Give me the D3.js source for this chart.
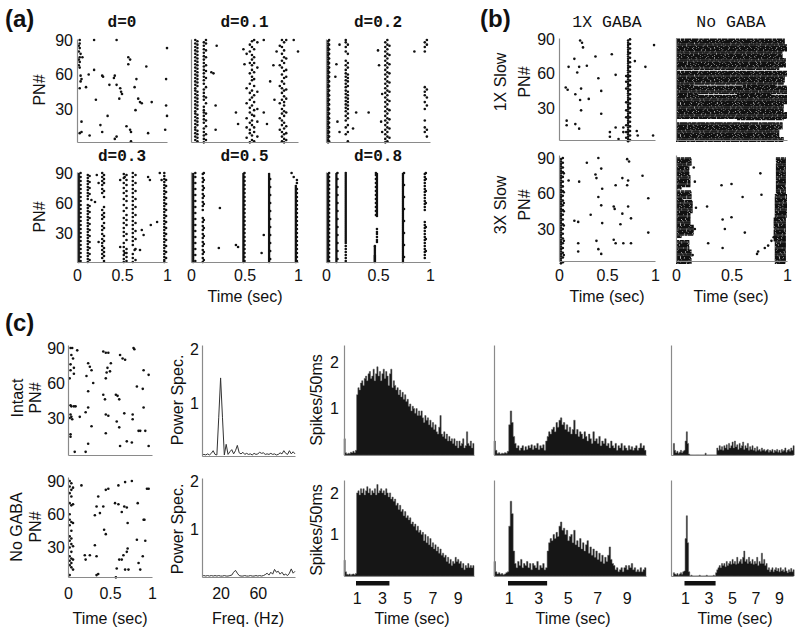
<!DOCTYPE html>
<html><head><meta charset="utf-8">
<script src="https://cdn.jsdelivr.net/npm/d3@7"></script>
<style>body{margin:0;background:#fff}</style>
</head><body><svg id="c" width="800" height="635"></svg>
<script>
// ---------------- DATA ----------------
const yTickLabels = [30, 60, 90];
const timeTicks = [0, 0.5, 1];
const histTicks = [1, 3, 5, 7, 9];
const freqTicks = [20, 60];
const dTitles = ["d=0", "d=0.1", "d=0.2", "d=0.3", "d=0.5", "d=0.8"];
const bTitles = ["1X GABA", "No GABA"];
const bRowLabels = ["1X Slow", "3X Slow"];
const cRowLabels = ["Intact", "No GABA"];

// (a) rasters: scattered spikes [time, PN]
const d0Points = [[0.03,90],[0.19,90],[0.44,90],[1.0,83],[0.03,87],[0.02,85],[0.03,83],[0.02,80],[0.04,78],[0.03,75],[0.02,73],[0.03,71],[0.02,68],[0.03,66],[0.06,75],[0.57,75],[0.59,73],[0.57,69],[0.77,67],[0.04,59],[0.05,56],[0.04,54],[0.03,48],[0.13,60],[0.19,64],[0.28,59],[0.29,58],[0.42,59],[0.41,57],[0.36,51],[0.44,51],[0.48,48],[0.49,45],[0.5,43],[0.47,39],[0.1,49],[0.66,56],[0.64,49],[0.68,39],[0.7,36],[0.72,35],[0.83,36],[0.99,56],[0.21,38],[0.65,29],[0.99,33],[1.0,24],[0.34,24],[0.05,19],[0.26,16],[0.28,10],[0.55,15],[0.59,12],[0.6,10],[0.98,12],[0.03,9],[0.05,10],[0.14,7],[0.42,4],[0.44,6],[0.6,2],[0.79,9]];
const d0Bands = [];
const d01Points = [[0.24,85],[0.19,62],[0.21,61],[0.23,33],[0.23,12],[0.42,27],[0.44,17],[0.5,69],[0.49,82],[0.68,90],[0.77,68],[0.78,38],[0.74,54],[0.8,80],[0.96,90],[1.0,80],[0.71,17],[0.68,27]];
const d01Bands = [
  [0.04,"3 6 9 12 14 17 20 23 26 28 31 34 37 40 43 46 48 51 54 57 60 63 66 69 72 75 78 81 84 87 90"],
  [0.06,"2 5 8 11 16 19 22 25 30 33 36 39 42 45 50 53 56 59 62 65 68 71 74 77 80 83 86 89"],
  [0.12,"1 4 7 10 13 18 21 24 27 29 32 38 41 44 47 52 55 58 61 64 67 70 73 76 79 82 85 88"],
  [0.14,"3 8 15 20 26 35 40 49 57 63 68 75 81 87 90"],
  [0.52,"5 14 22 35 48 78"],
  [0.55,"1 9 12 18 27 31 38 44 52 61 70 80 86"],
  [0.57,"3 7 16 20 25 33 40 46 55 58 64 68 73 77 84 89"],
  [0.59,"2 10 14 24 29 36 42 50 56 62 70 75 82 90"],
  [0.62,"6 19 30 45 66 88"],
  [0.83,"12 22 35 50 68 85"],
  [0.85,"2 6 10 16 20 26 30 38 44 48 54 60 66 72 78 84 90"],
  [0.87,"1 4 8 13 18 24 28 33 36 41 46 52 57 63 70 75 81 88"],
  [0.89,"3 9 15 27 39 47 58 64 74 90"]
];
const d02Points = [[0.13,86],[0.1,69],[0.09,58],[0.11,19],[0.13,10],[0.29,27],[0.41,27],[0.5,81],[0.51,68],[0.53,19],[0.54,10],[0.26,13],[0.54,43],[0.85,80]];
const d02Bands = [
  [0.02,"1 3 5 7 9 11 13 15 17 19 21 23 25 27 29 31 33 35 37 39 41 43 45 47 49 51 53 55 57 59 61 63 65 67 69 71 73 75 77 79 81 83 85 87 89"],
  [0.03,"2 6 10 14 18 22 26 30 34 38 42 46 50 54 58 62 66 70 74 78 82 86 90"],
  [0.19,"8 14 20 24 28 31 34 37 40 43 46 49 52 55 58 61 64 68 72 80 84 88 90"],
  [0.21,"2 10 16 22 26 30 33 36 39 42 45 50 54 57 60 66 70 78 86"],
  [0.57,"1 4 8 12 16 20 24 28 32 36 40 44 48 52 56 60 64 68 72 76 80 84 88"],
  [0.59,"2 6 10 14 18 22 26 30 34 38 42 46 50 54 58 62 66 70 74 78 82 86 90"],
  [0.61,"5 13 21 29 37 45 53 61 69 77 85"],
  [0.95,"10 14 20 30 36 42 45 49 80 84 88"],
  [0.97,"6 12 33 40 47 86 90"]
];
const d03Points = [[0.22,88],[0.24,80],[0.16,63],[0.2,61],[0.48,83],[0.53,86],[0.79,86],[0.81,83],[0.92,90],[0.94,83],[0.82,38],[0.89,41],[0.72,33],[0.74,28],[0.64,13],[0.7,13],[0.48,16],[0.53,10],[0.24,21]];
const d03Bands = [
  [0.02,"1 3 5 7 9 11 13 15 17 19 21 23 25 27 29 31 33 35 37 39 41 43 45 47 49 51 53 55 57 59 61 63 65 67 69 71 73 75 77 79 81 83 85 87 89"],
  [0.04,"2 6 10 14 18 22 26 30 34 38 42 46 50 54 58 62 66 70 74 78 82 86 90"],
  [0.12,"1 4 7 10 13 16 19 22 25 28 31 34 37 40 43 46 49 52 55 58 64 67 70 73 76 79 82 85 88"],
  [0.14,"3 9 15 21 27 33 39 45 51 57 69 75 81 87"],
  [0.28,"5 9 13 17 20 24 29 33 37 44 48 53 70 74 78 82 86 90"],
  [0.30,"2 7 11 15 22 27 35 40 46 50 56 66 72 80 84 88"],
  [0.52,"1 4 8 12 16 20 27 31 35 40 45 52 58 64 70 75 80 85 89"],
  [0.55,"2 6 10 14 23 29 38 43 48 55 62 67 72 78 83 88"],
  [0.62,"1 5 9 18 22 26 30 34 38 42 46 50 54 58 62 66 70 74 78 82 86 90"],
  [0.65,"3 14 24 32 40 48 56 64 72 80 88"],
  [0.97,"1 3 6 9 12 15 18 21 24 27 30 33 36 39 42 45 48 51 54 57 60 63 66 69 72 75 78 81 84 87 90"],
  [0.99,"5 11 17 23 29 35 41 47 53 59 65 71 77 83"]
];
const d05Points = [[0.27,55],[0.26,15],[0.42,18],[0.44,16],[0.68,28],[0.66,10],[0.94,90],[0.96,86],[0.99,83]];
const d05Bands = [
  [0.02,"1 3 5 7 9 11 13 15 17 19 21 23 25 27 29 31 33 35 37 39 41 43 45 47 49 51 53 55 57 59 61 63 65 67 69 71 73 75 77 79 81 83 85 87 89"],
  [0.04,"2 8 14 20 26 32 38 44 50 56 62 68 74 80 86 90"],
  [0.11,"1 5 9 13 17 21 25 29 33 37 41 45 53 57 61 65 69 73 77 81 85 89"],
  [0.12,"3 11 19 27 35 43 59 67 75 83 90"],
  [0.49,"1 3 5 7 9 11 13 15 17 19 21 23 25 27 29 31 33 35 37 39 41 43 45 47 49 51 53 55 57 59 61 63 65 67 69 71 73 75 77 79 81 83 85 87 89"],
  [0.50,"2 6 10 14 18 22 26 30 34 38 42 46 50 54 58 62 66 70 74 78 82 86 90"],
  [0.73,"1 3 5 7 9 11 13 15 17 19 21 23 25 27 29 31 33 35 37 39 41 43 45 47 49 51 53 55 57 59 61 63 65 67 69 71 73 75 77 79 81 83 85 87 89"],
  [0.74,"4 12 20 28 36 44 52 60 68 76 84"],
  [0.98,"1 3 5 7 9 11 13 15 17 19 21 23 25 27 29 31 33 35 37 39 41 43 45 47 49 51 53 55 57 59 61 63 65 67 69 71 73 75 77"],
  [0.99,"2 6 10 14 18 22 26 30 34 38 42 46 50 54 58 62 66 70 74 80"]
];
const d08Points = [];
const d08Bands = [
  [0.02,"1 3 5 7 9 11 13 15 17 19 21 23 25 27 29 31 33 35 37 39 41 43 45 47 49 51 53 55 57 59 61 63 65 67 69 71 73 75 77 79 81 83 85 87 89"],
  [0.03,"2 6 10 14 18 22 26 30 34 38 42 46 50 54 58 62 66 70 74 78 82 86 90"],
  [0.10,"1 3 5 7 9 11 13 15 17 19 21 23 25 27 29 31 33 35 37 39 41 43 45 47 49 51 53 55 57 59 61 63 65 67 69 71 73 75 77 79 81 83 85 87 89"],
  [0.11,"4 12 20 28 36 44 52 60 68 76 84 90"],
  [0.19,"2 5 8 11 14 17 20 22 24 26 28 30 32 34 36 38 40 42 44 46 48 50 52 54 56 58 60 62 64 66 68 70 72 74 76 78 80 82 84 86 88 90"],
  [0.49,"21 23 26 29 31 34 47 49 51 53 55 57 59 61 63 65 67 69 71 73 75 77 79 81 83 85 87 89"],
  [0.48,"48 52 56 60 64 68 72 76 80 84 88 90"],
  [0.47,"1 2 3 4 5 6 7 8 10 12 14 16 17"],
  [0.74,"1 3 5 7 9 11 13 15 17 19 21 23 25 27 29 31 33 35 37 39 41 43 45 47 49 51 53 55 57 59 61 63 65 67 69 71 73 75 77 79 81 83 85 87 89"],
  [0.75,"6 18 30 42 54 66 78 90"],
  [0.95,"5 8 11 14 17 20 23 26 29 32 35 38 41 53 56 59 62 65 68 71 74 77 80 83 86 89"],
  [0.96,"12 24 36 60 72 84 90"]
];

// (b) rasters
const gaba1xPoints = [[0.22,89],[0.24,87],[0.25,83],[0.38,75],[0.55,77],[0.99,85],[0.16,73],[0.10,66],[0.21,66],[0.29,67],[0.19,61],[0.79,71],[0.9,66],[0.59,59],[0.41,56],[0.07,48],[0.09,46],[0.17,42],[0.23,47],[0.44,45],[0.31,38],[0.22,37],[0.23,28],[0.44,25],[0.08,19],[0.08,15],[0.17,16],[0.21,12],[0.53,9],[0.53,5],[0.59,13],[0.62,3],[0.67,9],[0.81,10],[0.82,6],[0.98,6],[0.67,13]];
const gaba1xBands = [
  [0.72,"1 3 5 7 9 11 13 15 17 19 21 23 25 27 29 31 33 35 37 39 41 43 45 47 49 51 53 55 57 59 61 63 65 67 69 71 73 75 77 79 81 83 85 87 89"],
  [0.74,"2 6 10 14 18 22 26 30 34 38 42 46 50 54 58 62 66 70 74 78 82 86 90"],
  [0.70,"4 9 15 22 28 35 47 53 58"]
];
const noGaba1xBlocks = [[86,90,0,0.98],[80,85,0,1.0],[74,79,0,0.96],[66,73,0,0.99],[64,65,0,0.93],[58,62,0,1.0],[53,57,0,0.98],[51,52,0,0.97],[50,50,0,0.16],[50,50,0.6,0.9],[43,49,0,1.0],[42,42,0,0.2],[42,42,0.55,0.86],[34,41,0,1.0],[27,33,0,0.97],[21,26,0,1.0],[20,20,0.55,0.97],[12,17,0,0.96],[5,11,0,0.93],[1,4,0,0.97]];
const gaba3xPoints = [[0.29,86],[0.41,90],[0.71,89],[0.73,87],[0.44,81],[0.10,71],[0.21,70],[0.38,76],[0.39,73],[0.66,73],[0.87,75],[0.72,71],[0.45,64],[0.59,67],[0.71,67],[0.93,56],[0.41,57],[0.44,50],[0.57,49],[0.58,47],[0.72,49],[0.66,43],[0.33,42],[0.75,39],[0.16,37],[0.2,36],[0.45,35],[0.64,34],[0.93,27],[0.2,18],[0.39,20],[0.57,21],[0.59,18],[0.67,18],[0.75,18],[0.41,13],[0.44,9],[0.2,11]];
const gaba3xBands = [
  [0.02,"1 3 5 7 9 11 13 15 17 19 21 23 25 27 29 31 33 35 37 39 41 43 45 47 49 51 53 55 57 59 61 63 65 67 69 71 73 75 77 79 81 83 85 87 89"],
  [0.04,"2 6 10 14 18 22 26 30 34 38 42 46 50 54 58 62 66 70 74 78 82 86 90"],
  [0.05,"8 20 33 45 52 61 77"]
];
const noGaba3xPoints = [[0.41,67],[0.5,68],[0.76,77],[0.6,57],[0.77,59],[0.28,49],[0.5,40],[0.42,38],[0.62,27],[0.44,30],[0.29,18],[0.42,14],[0.74,11],[0.73,9],[0.8,14],[0.83,16],[0.86,20],[0.88,23],[0.16,82],[0.17,70],[0.18,48],[0.17,30],[0.15,8]];
const noGaba3xBlocks = [[84,90,0,0.14],[76,83,0,0.12],[66,75,0,0.13],[64,65,0,0.05],[56,62,0,0.14],[55,55,0,0.06],[44,54,0,0.15],[34,43,0,0.13],[25,33,0,0.16],[23,24,0,0.05],[13,20,0,0.12],[1,12,0,0.14],[60,90,0.9,0.99],[40,59,0.89,1.0],[20,39,0.88,0.99],[1,19,0.89,0.99]];

// (c) rasters
const intactPoints = [[0.03,90],[0.05,90],[0.11,88],[0.04,84],[0.06,81],[0.03,76],[0.07,73],[0.03,71],[0.07,68],[0.02,64],[0.24,77],[0.26,74],[0.28,71],[0.22,66],[0.24,53],[0.3,60],[0.42,87],[0.45,86],[0.48,86],[0.51,77],[0.47,73],[0.46,69],[0.5,70],[0.45,64],[0.62,84],[0.65,81],[0.68,80],[0.79,89],[0.78,90],[0.42,50],[0.44,46],[0.57,50],[0.59,49],[0.61,46],[0.82,57],[0.89,55],[0.9,39],[0.9,71],[0.96,67],[0.03,41],[0.04,40],[0.07,40],[0.09,40],[0.02,30],[0.04,31],[0.05,29],[0.03,33],[0.14,31],[0.21,35],[0.24,39],[0.45,33],[0.48,32],[0.45,17],[0.58,27],[0.61,22],[0.67,34],[0.77,33],[0.77,29],[0.7,10],[0.76,9],[0.84,19],[0.86,19],[0.92,19],[0.03,16],[0.03,14],[0.28,23],[0.24,8],[0.62,6],[0.96,6],[0.08,1],[0.21,1]];
const noGabaCPoints = [[0.16,86],[0.36,76],[0.45,82],[0.48,83],[0.34,67],[0.38,61],[0.32,59],[0.42,67],[0.43,46],[0.45,42],[0.6,86],[0.68,89],[0.76,90],[0.56,70],[0.6,69],[0.67,67],[0.7,66],[0.64,62],[0.71,52],[0.83,70],[0.9,55],[0.91,55],[0.94,83],[0.96,83],[0.82,37],[0.92,36],[0.89,22],[0.84,16],[0.86,10],[0.71,29],[0.7,26],[0.66,23],[0.64,19],[0.61,19],[0.58,11],[0.57,3],[0.68,10],[0.72,10],[0.2,23],[0.26,23],[0.34,22],[0.21,19],[0.32,32],[0.34,5],[0.36,6]];
const noGabaCBands = [
  [0.02,"5 14 18 22 30 36 40 50 55 60 70 79 85 90"],
  [0.04,"12 16 20 26 33 38 45 53 68 76 82 88"],
  [0.06,"10 19 31 52 69 84"]
];

// (c) power spectra
const specFreq = [0,2,4,6,8,10,12,14,16,18,20,22,24,26,28,30,32,34,36,38,40,42,44,46,48,50,52,54,56,58,60,62,64,66,68,70,72,74,76,78,80,82,84,86,88,90,92,94,96,98,100];
const specIntact = [0.02,0.03,0.02,0.04,0.02,0.05,0.1,0.03,0.02,0.73,1.47,0.73,0.02,0.22,0.03,0.08,0.12,0.04,0.1,0.2,0.06,0.04,0.07,0.03,0.05,0.03,0.04,0.02,0.05,0.03,0.04,0.07,0.05,0.06,0.03,0.04,0.03,0.05,0.03,0.04,0.02,0.03,0.06,0.04,0.1,0.05,0.03,0.1,0.04,0.08,0.04];
const specNoGaba = [0.02,0.03,0.02,0.03,0.02,0.03,0.02,0.03,0.02,0.03,0.02,0.02,0.03,0.02,0.02,0.03,0.04,0.1,0.14,0.08,0.03,0.02,0.02,0.03,0.02,0.02,0.03,0.02,0.02,0.03,0.02,0.03,0.02,0.03,0.05,0.08,0.04,0.1,0.06,0.16,0.1,0.12,0.06,0.1,0.04,0.06,0.03,0.08,0.17,0.08,0.12];

// (c) PSTHs, 0.1 s bins from 0 s
const histIntact1 = [0.35,0.05,0.02,0.04,0.03,0.06,0.05,0.08,0.05,0.1,1.3,1.45,1.4,1.55,1.6,1.5,1.65,1.7,1.6,1.75,1.8,1.65,1.7,1.85,1.6,1.75,1.9,1.7,1.8,1.6,1.75,1.85,1.65,1.8,1.7,1.5,1.75,1.85,1.45,1.6,1.5,1.4,1.45,1.3,1.4,1.25,1.35,1.2,1.3,1.15,1.2,1.05,1.1,0.95,1.05,1.0,0.9,1.0,0.85,0.95,0.85,0.95,0.8,0.7,0.85,0.75,0.8,0.65,0.75,0.6,0.7,0.55,0.65,0.5,0.45,0.6,0.85,0.45,0.4,0.5,0.35,0.45,0.3,0.4,0.3,0.35,0.25,0.35,0.2,0.3,0.15,0.3,0.2,0.25,0.35,0.15,0.2,0.5,0.25,0.2,0.3,0.15,0.25];
const histIntact2 = [0.3,0.1,0.03,0.05,0.02,0.04,0.03,0.05,0.04,0.08,0.65,0.95,0.7,0.4,0.25,0.15,0.2,0.1,0.15,0.2,0.1,0.18,0.12,0.2,0.15,0.22,0.12,0.2,0.15,0.25,0.12,0.2,0.15,0.22,0.1,0.3,0.4,0.5,0.45,0.55,0.6,0.5,0.7,0.6,0.75,0.8,0.65,0.7,0.55,0.65,0.5,0.6,0.45,0.55,0.75,0.45,0.55,0.4,0.5,0.45,0.35,0.5,0.4,0.3,0.45,0.35,0.25,0.5,0.3,0.35,0.25,0.4,0.2,0.3,0.25,0.35,0.2,0.25,0.15,0.3,0.2,0.15,0.25,0.1,0.2,0.15,0.25,0.1,0.2,0.15,0.1,0.2,0.12,0.18,0.1,0.15,0.2,0.1,0.15,0.25,0.15,0.2,0.1];
const histIntact3 = [0.25,0.1,0.05,0.08,0.04,0.06,0.1,0.05,0.08,0.1,0.3,0.5,0.25,0.02,0,0,0,0,0,0,0,0,0,0,0,0,0,0.04,0,0,0,0,0,0,0,0,0,0.15,0.1,0.2,0.12,0.18,0.1,0.2,0.15,0.22,0.12,0.25,0.15,0.2,0.28,0.15,0.3,0.18,0.22,0.12,0.25,0.15,0.2,0.28,0.12,0.2,0.15,0.25,0.1,0.18,0.12,0.2,0.1,0.15,0.08,0.18,0.1,0.12,0.08,0.15,0.1,0.12,0.08,0.1,0.12,0.06,0.1,0.08,0.12,0.05,0.1,0.08,0.12,0.06,0.1,0.05,0.12,0.08,0.1,0.15,0.06,0.1,0.12,0.08,0.15,0.1,0.2];
const histNoGaba1 = [0.38,0.1,0.04,0.03,0.05,0.02,0.04,0.05,0.03,0.06,2.0,2.05,1.95,2.1,2.0,2.1,1.95,2.05,2.15,2.0,2.1,1.95,2.05,2.0,2.1,1.95,2.2,2.0,2.05,2.1,2.0,2.05,1.95,2.1,2.0,1.9,2.0,1.85,1.9,1.8,1.85,1.7,1.75,1.6,1.7,1.55,1.6,1.45,1.55,1.4,1.45,1.35,1.4,1.25,1.3,1.2,1.25,1.1,1.2,1.05,1.1,1.0,1.05,0.85,1.0,0.8,0.95,0.75,0.9,0.7,0.8,0.65,0.75,0.6,0.7,0.55,0.65,0.5,0.55,0.45,0.5,0.35,0.45,0.3,0.4,0.25,0.35,0.3,0.45,0.35,0.4,0.3,0.35,0.2,0.3,0.15,0.25,0.2,0.3,0.2,0.25,0.2,0.25];
const histNoGaba2 = [0.35,0.1,0.05,0.08,0.04,0.06,0.03,0.05,0.08,0.1,1.2,1.8,1.5,0.6,0.3,0.2,0.35,0.25,0.4,0.2,0.3,0.25,0.35,0.2,0.3,0.15,0.3,0.25,0.2,0.35,0.15,0.25,0.2,0.3,0.15,0.2,0.6,0.8,0.9,0.85,1.0,0.9,1.05,0.95,1.2,1.3,1.1,1.15,1.0,1.1,0.85,0.95,1.0,0.8,1.1,0.75,0.85,0.7,0.9,0.65,0.8,0.6,0.75,0.85,0.55,0.7,0.5,0.65,0.45,0.6,0.4,0.55,0.35,0.5,0.3,0.45,0.35,0.5,0.7,0.4,0.3,0.25,0.15,0.2,0.1,0.15,0.2,0.1,0.2,0.25,0.15,0.25,0.2,0.3,0.15,0.2,0.1,0.15,0.1,0.2,0.1,0.15,0.2];
const histNoGaba3 = [0.08,0.05,0.03,0.06,0.02,0.05,0.08,0.04,0.1,0.12,0.9,1.45,0.8,0.1,0,0.02,0,0,0,0,0,0,0.02,0,0,0,0,0,0.02,0,0,0,0,0,0.02,0,0.08,0.15,0.2,0.25,0.2,0.3,0.25,0.3,0.22,0.35,0.25,0.3,0.35,0.28,0.4,0.3,0.35,0.28,0.45,0.3,0.35,0.4,0.3,0.45,0.6,0.35,0.4,0.3,0.45,0.35,0.3,0.4,0.28,0.35,0.3,0.45,0.25,0.35,0.3,0.55,0.3,0.4,0.25,0.3,0.15,0.2,0.1,0.15,0.2,0.1,0.15,0.2,0.12,0.18,0.1,0.2,0.12,0.15,0.1,0.2,0.12,0.08,0.15,0.1,0.18,0.1,0.15];
const histBinWidth = 0.1;
const stimulus = [0.95, 3.6];

// ---------------- DRAWING ----------------
const SANS = '"Liberation Sans", Arial, Helvetica, sans-serif';
const MONO = '"Liberation Mono", "Courier New", monospace';
const AX = "#8a8a8a", INK = "#111";
const svg = d3.select("#c");
const intFmt = d3.format("d");

function styleAxis(a, fs) {
  a.attr("font-family", SANS).attr("font-size", fs || 16);
  a.select(".domain").attr("stroke", AX).attr("stroke-width", 1.2);
  a.selectAll("text").attr("fill", INK);
}
function text(x, y, s, o) {
  o = o || {};
  return svg.append("text").attr("x", x).attr("y", y).attr("text-anchor", o.anchor || "middle")
    .attr("font-family", o.font || SANS).attr("font-size", o.size || 16)
    .attr("font-weight", o.weight || "normal").attr("fill", INK).text(s);
}
function vtext(x, y, s, size) {
  svg.append("text").attr("transform", `translate(${x},${y}) rotate(-90)`).attr("text-anchor", "middle")
    .attr("dy", "0.35em").attr("font-family", SANS).attr("font-size", size || 16).attr("fill", INK).text(s);
}

function raster(c) {
  const g = svg.append("g");
  const x = d3.scaleLinear().domain([0, 1]).range([c.x0, c.x1]);
  const y = d3.scaleLinear().domain([c.dlo, c.dhi]).range([c.yb, c.yt]);
  const dashes = ["6 0.6 4 0.5 9 0.7", "5 0.5 8 0.6 3 0.5", "7 0.7 3.5 0.5 6 0.6", "4 0.6 10 0.5 5 0.7"];
  const offs = [0, 3.3, 7.1, 1.9, 5.6, 9.2, 2.7];
  (c.blocks || []).forEach(b => {
    d3.range(b[0], b[1] + 1).forEach(pn => {
      g.append("line").attr("x1", x(b[2])).attr("x2", x(b[3])).attr("y1", y(pn)).attr("y2", y(pn))
        .attr("stroke", INK).attr("stroke-width", 1.5).attr("stroke-dasharray", dashes[pn % 4])
        .attr("stroke-dashoffset", offs[pn % 7]);
    });
  });
  const pts = (c.points || []).slice();
  (c.bands || []).forEach(b => b[1].split(" ").map(Number).forEach(pn => pts.push([b[0], pn])));
  g.selectAll("circle.s").data(pts).join("circle").attr("cx", d => x(d[0])).attr("cy", d => y(d[1]))
    .attr("r", c.r || 1.3).attr("fill", INK);
  const ay = g.append("g").attr("transform", `translate(${c.x0},0)`)
    .call(d3.axisLeft(y).tickValues(c.yTicks ? yTickLabels : []).tickSize(0).tickPadding(c.yPad || 4));
  styleAxis(ay);
  const ax = g.append("g").attr("transform", `translate(0,${c.yb})`)
    .call(d3.axisBottom(x).tickValues(c.xTicks ? timeTicks : []).tickSize(0).tickPadding(c.xPad || 8).tickFormat(d => String(d)));
  styleAxis(ax);
}

function spectrum(c) {
  const g = svg.append("g");
  const x = d3.scaleLinear().domain([0, 100]).range([c.x0, c.x1]);
  const y = d3.scaleLinear().domain([0, c.dhi]).range([c.yb, c.yt]);
  g.append("path").datum(specFreq.map((f, i) => [f, c.vals[i]]))
    .attr("d", d3.line().x(d => x(d[0])).y(d => y(d[1])))
    .attr("fill", "none").attr("stroke", "#333").attr("stroke-width", 1);
  const ay = g.append("g").attr("transform", `translate(${c.x0},0)`)
    .call(d3.axisLeft(y).tickValues([1, 2]).tickSize(0).tickPadding(3).tickFormat(intFmt));
  styleAxis(ay);
  const ax = g.append("g").attr("transform", `translate(0,${c.yb})`)
    .call(d3.axisBottom(x).tickValues(c.xTicks ? freqTicks : []).tickSize(0).tickPadding(10.6).tickFormat(intFmt));
  styleAxis(ax);
}

function psth(c) {
  const g = svg.append("g");
  const x = d3.scaleLinear().domain(c.dom).range([c.x0, c.x1]);
  const y = d3.scaleLinear().domain([0, c.dhi]).range([c.yb, c.yt]);
  const steps = c.vals.map((v, i) => [i * histBinWidth, v]);
  steps.push([c.vals.length * histBinWidth, c.vals[c.vals.length - 1]]);
  g.append("path").datum(steps)
    .attr("d", d3.area().curve(d3.curveStepAfter).x(d => x(d[0])).y0(y(0)).y1(d => y(d[1])))
    .attr("fill", "#161616").attr("stroke", "#5a5a5a").attr("stroke-width", 0.5);
  const ay = g.append("g").attr("transform", `translate(${c.x0},0)`)
    .call(d3.axisLeft(y).tickValues(c.yTicks ? [1, 2] : []).tickSize(0).tickPadding(5).tickFormat(intFmt));
  styleAxis(ay);
  const ax = g.append("g").attr("transform", `translate(0,${c.yb})`)
    .call(d3.axisBottom(x).tickValues(c.xTicks ? histTicks : []).tickSize(0).tickPadding(16.6).tickFormat(intFmt));
  styleAxis(ax);
  if (c.stim) {
    g.append("rect").attr("x", x(stimulus[0])).attr("width", x(stimulus[1]) - x(stimulus[0]))
      .attr("y", c.yb + 5).attr("height", 4.5).attr("fill", INK);
  }
}

// ---- panel (a)
const aCols = [[77, 167], [191, 298], [326, 430]];
const aData = [[d0Points, d0Bands], [d01Points, d01Bands], [d02Points, d02Bands], [d03Points, d03Bands], [d05Points, d05Bands], [d08Points, d08Bands]];
aData.forEach((d, i) => {
  const row = Math.floor(i / 3), col = i % 3;
  const geo = row === 0 ? { yb: 142, yt: 39, dlo: 1.3, dhi: 90.9 } : { yb: 262, yt: 172, dlo: 1, dhi: 91 };
  raster(Object.assign({ x0: aCols[col][0], x1: aCols[col][1], points: d[0], bands: d[1], yTicks: col === 0, xTicks: row === 1, xPad: 7.6, r: 1.3 }, geo));
  text((aCols[col][0] + aCols[col][1]) / 2, row === 0 ? 27 : 161, dTitles[i], { font: MONO, size: 16, weight: "bold" });
});
vtext(39, 90, "PN#");
vtext(39, 217, "PN#");
text(245, 302, "Time (sec)");
text(5, 27, "(a)", { anchor: "start", size: 24, weight: "bold" });

// ---- panel (b)
const bRow1 = { yb: 140, yt: 38, dlo: 2.1, dhi: 91.2 };
const bRow2 = { yb: 261, yt: 155, dlo: 3, dhi: 92.5 };
raster(Object.assign({ x0: 559, x1: 655, points: gaba1xPoints, bands: gaba1xBands, yTicks: true, xTicks: false }, bRow1));
raster(Object.assign({ x0: 676, x1: 787, blocks: noGaba1xBlocks, yTicks: false, xTicks: false }, bRow1));
raster(Object.assign({ x0: 559, x1: 655, points: gaba3xPoints, bands: gaba3xBands, yTicks: true, xTicks: true, xPad: 8.6 }, bRow2));
raster(Object.assign({ x0: 676, x1: 787, points: noGaba3xPoints, blocks: noGaba3xBlocks, yTicks: false, xTicks: true, xPad: 8.6 }, bRow2));
text(607, 27, bTitles[0], { font: MONO, size: 16.5 });
text(731, 27, bTitles[1], { font: MONO, size: 16.5 });
vtext(500, 82, bRowLabels[0]); vtext(524, 82, "PN#");
vtext(500, 205, bRowLabels[1]); vtext(524, 205, "PN#");
text(607, 302, "Time (sec)");
text(731, 302, "Time (sec)");
text(480, 27, "(b)", { anchor: "start", size: 24, weight: "bold" });

// ---- panel (c)
raster({ x0: 68, x1: 152, yb: 455, yt: 345, dlo: -1.7, dhi: 92.6, points: intactPoints, yTicks: true, xTicks: false, yPad: 3 });
raster({ x0: 68, x1: 152, yb: 577, yt: 477, dlo: 3.3, dhi: 93.6, points: noGabaCPoints, bands: noGabaCBands, yTicks: true, xTicks: true, xPad: 10.6, yPad: 3 });
spectrum({ x0: 202, x1: 295, yb: 456, yt: 345, dhi: 2.09, vals: specIntact, xTicks: false });
spectrum({ x0: 202, x1: 295, yb: 577, yt: 478, dhi: 2.08, vals: specNoGaba, xTicks: true });
const hCols = [[344, 474, [0, 10.3]], [494, 646, [0, 10.3]], [671, 793, [-0.2, 10.2]]];
[histIntact1, histIntact2, histIntact3].forEach((v, i) => psth({ x0: hCols[i][0], x1: hCols[i][1], dom: hCols[i][2], yb: 455, yt: 345, dhi: 2.37, vals: v, yTicks: i === 0, xTicks: false }));
[histNoGaba1, histNoGaba2, histNoGaba3].forEach((v, i) => psth({ x0: hCols[i][0], x1: hCols[i][1], dom: hCols[i][2], yb: 576, yt: 480, dhi: 2.31, vals: v, yTicks: i === 0, xTicks: true, stim: true }));
vtext(17, 398, cRowLabels[0]); vtext(35, 398, "PN#");
vtext(16, 527, cRowLabels[1]); vtext(35, 527, "PN#");
vtext(177, 400, "Power Spec."); vtext(177, 529, "Power Spec.");
vtext(316, 400, "Spikes/50ms"); vtext(316, 530, "Spikes/50ms");
text(110, 624, "Time (sec)");
text(248, 624, "Freq. (Hz)");
[0, 1, 2].forEach(i => text((hCols[i][0] + hCols[i][1]) / 2 + 3, 624, "Time (sec)"));
text(5, 331, "(c)", { anchor: "start", size: 24, weight: "bold" });
</script>
</body></html>
